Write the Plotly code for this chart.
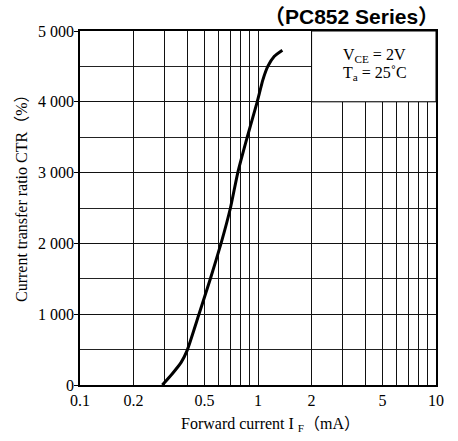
import plotly.graph_objects as go
import math

# Data
if_ma = [0.29, 0.33, 0.37, 0.40, 0.466, 0.54, 0.62, 0.70, 0.77, 0.87, 0.99, 1.065, 1.135, 1.235, 1.37]
ctr = [0, 160, 320, 490, 1000, 1500, 2000, 2500, 3000, 3500, 4000, 4310, 4500, 4643, 4729]

x_grid = [0.1, 0.2, 0.3, 0.4, 0.5, 0.6, 0.7, 0.8, 0.9, 1, 2, 3, 4, 5, 6, 7, 8, 9, 10]
x_labels = ["0.1", "0.2", "", "", "0.5", "", "", "", "", "1", "2", "", "", "5", "", "", "", "", "10"]
y_ticks = [0, 1000, 2000, 3000, 4000, 5000]
y_labels = ["0", "1 000", "2 000", "3 000", "4 000", "5 000"]

serif = "Liberation Serif"
LP = "<span style='font-family:Noto Sans CJK SC'>（</span>"
RP = "<span style='font-family:Noto Sans CJK SC'>）</span>"

fig = go.Figure()
fig.add_trace(go.Scatter(x=if_ma, y=ctr, mode="lines",
                         line=dict(color="black", width=3, shape="spline", smoothing=0.5),
                         showlegend=False, hoverinfo="skip"))

fig.update_layout(
    width=458, height=441,
    margin=dict(l=80, r=22, t=31, b=56),
    paper_bgcolor="white", plot_bgcolor="white",
    font=dict(family=serif, size=16, color="black"),
    xaxis=dict(type="log", range=[-1, 1], tickvals=x_grid, ticktext=x_labels,
               showgrid=True, gridcolor="#111", gridwidth=1,
               showline=True, linecolor="black", linewidth=1.5, mirror=True,
               ticks="", zeroline=False,
               tickfont=dict(family=serif, size=16)),
    yaxis=dict(range=[0, 5000], tickvals=y_ticks, ticktext=y_labels,
               showgrid=True, gridcolor="#111", gridwidth=1,
               showline=True, linecolor="black", linewidth=1.5, mirror=True,
               ticks="outside", ticklen=4, tickcolor="black", zeroline=False,
               ticklabelstandoff=-3,
               minor=dict(dtick=500, showgrid=True, gridcolor="#222", gridwidth=1),
               tickfont=dict(family=serif, size=16)),
)

# white box for the condition label (x 2..10, y 4000..5000)
px0 = (math.log10(2) + 1) / 2
fig.add_shape(type="rect", xref="paper", yref="paper", x0=px0, x1=1, y0=0.8, y1=1,
              fillcolor="white", line=dict(color="black", width=1), layer="above")

fig.add_annotation(xref="paper", yref="paper", x=px0, xshift=29, y=1, yshift=-24,
                   xanchor="left", yanchor="middle",
                   text="V<sub>CE</sub> = 2V", showarrow=False,
                   font=dict(family=serif, size=16))
fig.add_annotation(xref="paper", yref="paper", x=px0, xshift=29, y=1, yshift=-42,
                   xanchor="left", yanchor="middle",
                   text="T<sub>a</sub> = 25˚C", showarrow=False,
                   font=dict(family=serif, size=16))

fig.add_annotation(xref="paper", yref="paper", x=1.0, xshift=5, y=1.0, yshift=15,
                   xanchor="right", yanchor="middle",
                   text="<b>（PC852 Series）</b>", showarrow=False,
                   font=dict(family="Liberation Sans, Noto Sans CJK SC, sans-serif", size=21))

fig.add_annotation(xref="paper", yref="paper", x=0.5, xshift=12, y=0, yshift=-37,
                   xanchor="center", yanchor="middle",
                   text="Forward current I <sub>F</sub>" + LP + "mA" + RP, showarrow=False,
                   font=dict(family=serif, size=16))

fig.add_annotation(xref="paper", yref="paper", x=0, xshift=-60, y=0.5, yshift=14,
                   xanchor="center", yanchor="middle", textangle=-90,
                   text="Current transfer ratio CTR" + LP + "%" + RP, showarrow=False,
                   font=dict(family=serif, size=16))

fig.write_html("out.html", config={"displayModeBar": False},
               post_script="document.body.style.margin='0';")
